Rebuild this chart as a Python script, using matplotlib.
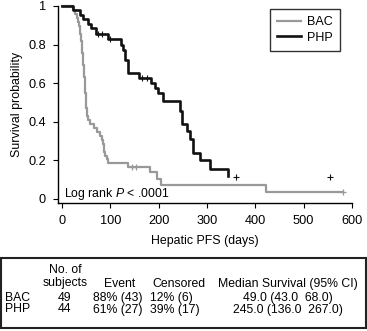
import matplotlib
matplotlib.use("Agg")
import matplotlib.pyplot as plt
from matplotlib.patches import Rectangle

plt.rcParams.update({
    "font.family": ["Liberation Sans", "DejaVu Sans"],
    "font.size": 9,
    "mathtext.fontset": "custom",
    "mathtext.it": "Liberation Sans:italic",
    "mathtext.rm": "Liberation Sans",
})

# Kaplan-Meier step points (time in days, survival)
bac_t = [0, 22, 28, 32, 34, 36, 37, 38, 39, 40, 41, 42, 43, 44, 45, 46, 47, 48,
         49, 50, 52, 53, 55, 58, 66, 72, 78, 83, 86, 88, 90, 93, 96, 137, 182,
         196, 206, 422, 582]
bac_s = [1.0, 0.98, 0.959, 0.939, 0.918, 0.898, 0.878, 0.857, 0.837, 0.816,
         0.796, 0.755, 0.735, 0.694, 0.673, 0.633, 0.592, 0.551, 0.51, 0.469,
         0.449, 0.429, 0.408, 0.388, 0.367, 0.347, 0.327, 0.306, 0.286, 0.245,
         0.224, 0.204, 0.188, 0.163, 0.14, 0.105, 0.07, 0.035, 0.035]
bac_cens_t = [144, 154, 582]
bac_cens_s = [0.163, 0.163, 0.035]

php_t = [0, 23, 37, 44, 54, 60, 70, 96, 123, 127, 130, 136, 160, 185, 192, 199,
         210, 245, 249, 259, 265, 272, 285, 306, 343]
php_s = [1.0, 0.977, 0.955, 0.932, 0.909, 0.886, 0.855, 0.827, 0.80, 0.77,
         0.72, 0.65, 0.625, 0.60, 0.574, 0.548, 0.505, 0.457, 0.39, 0.35, 0.31,
         0.235, 0.2, 0.152, 0.118]
php_cens_t = [75, 82, 100, 165, 176, 361, 555]
php_cens_s = [0.855, 0.855, 0.827, 0.625, 0.625, 0.115, 0.115]

xticks = [0, 100, 200, 300, 400, 500, 600]
yticks = [0, 0.2, 0.4, 0.6, 0.8, 1]
ytick_labels = ["0", "0.2", "0.4", "0.6", "0.8", "1"]

col_heads = ["No. of\nsubjects", "Event", "Censored", "Median Survival (95% CI)"]
groups = ["BAC", "PHP"]
n_subj = ["49", "44"]
events = ["88% (43)", "61% (27)"]
censored = ["12% (6)", "39% (17)"]
median = ["49.0 (43.0  68.0)", "245.0 (136.0  267.0)"]

W, H = 367, 331
fig = plt.figure(figsize=(W / 100, H / 100), dpi=100)
ax = fig.add_axes([58 / W, 1 - 202.6 / H, 294 / W, 196.6 / H])

ax.step(bac_t, bac_s, where="post", color="#999999", lw=1.6, label="BAC",
        clip_on=False)
ax.step(php_t, php_s, where="post", color="#111111", lw=1.9, label="PHP",
        clip_on=False)
ax.plot(bac_cens_t, bac_cens_s, "+", color="#999999", ms=5, mew=0.9, clip_on=False)
ax.plot(php_cens_t, php_cens_s, "+", color="#111111", ms=5, mew=0.8, clip_on=False)

ax.set_xlim(-8, 600)
ax.set_ylim(-0.02, 1.0)
ax.set_xticks(xticks)
ax.set_yticks(yticks)
ax.set_yticklabels(ytick_labels)
for s in ["top", "right"]:
    ax.spines[s].set_visible(False)
for s in ["left", "bottom"]:
    ax.spines[s].set_linewidth(1.0)
ax.tick_params(length=3.6, width=0.8, labelsize=9.2, pad=5)
ax.set_xlabel("Hepatic PFS (days)", fontsize=8.9, labelpad=6)
ax.set_ylabel("Survival probability", fontsize=8.9, labelpad=4)

ax.text(4, 0.025, r"Log rank $P$ < .0001", fontsize=8.8, va="center", ha="left")

leg = ax.legend(loc="upper right", bbox_to_anchor=(339.5 / W, 1 - 9 / H),
                bbox_transform=fig.transFigure, frameon=True, fancybox=False,
                fontsize=9, handlelength=1.9, handletextpad=0.5,
                borderpad=0.55, labelspacing=0.3, borderaxespad=0)
leg.get_frame().set_edgecolor("black")
leg.get_frame().set_linewidth(1.0)

# summary table below the plot
fig.patches.append(Rectangle((1.5 / W, 1 - 327.5 / H), 364 / W, 70 / H,
                             transform=fig.transFigure, fill=False,
                             edgecolor="#222222", lw=1.5))

def fy(py):
    return 1 - py / H

fs = 8.8
fig.text(65 / W, fy(276.5), col_heads[0], ha="center", va="center", fontsize=fs,
         linespacing=1.1)
fig.text(120 / W, fy(284), col_heads[1], ha="center", va="center", fontsize=fs)
fig.text(152 / W, fy(284), col_heads[2], ha="left", va="center", fontsize=fs)
fig.text(288 / W, fy(284), col_heads[3], ha="center", va="center", fontsize=fs)
for i, y in enumerate([298, 309.5]):
    fig.text(5 / W, fy(y), groups[i], ha="left", va="center", fontsize=fs)
    fig.text(65 / W, fy(y), n_subj[i], ha="center", va="center", fontsize=fs)
    fig.text(118 / W, fy(y), events[i], ha="center", va="center", fontsize=fs)
    fig.text(150 / W, fy(y), censored[i], ha="left", va="center", fontsize=fs)
    fig.text(288 / W, fy(y), median[i], ha="center", va="center", fontsize=fs)

fig.savefig("out.png", dpi=100)
